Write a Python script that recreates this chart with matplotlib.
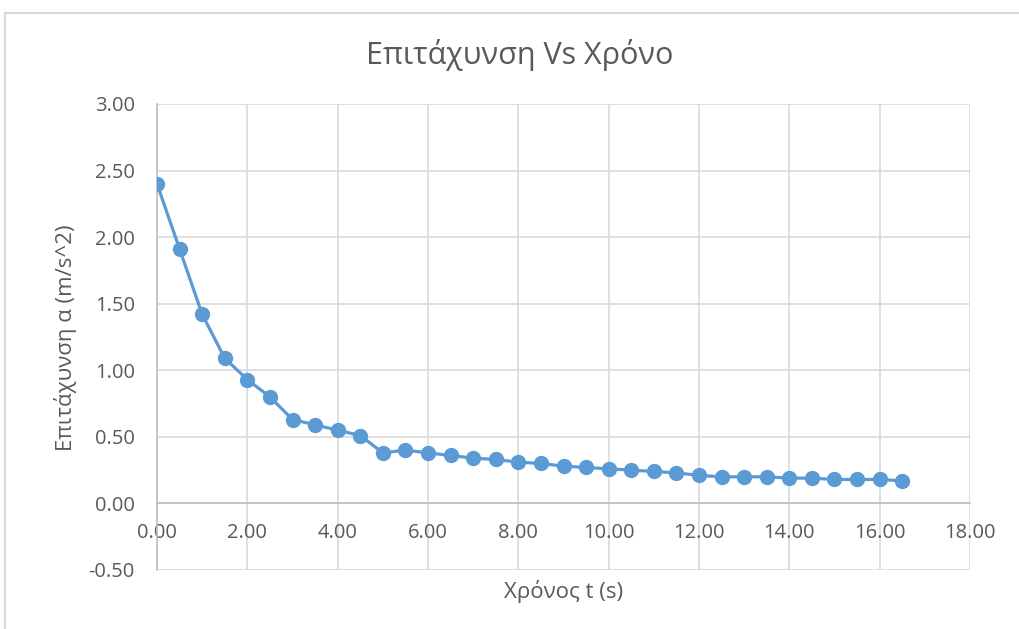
import matplotlib
matplotlib.use("Agg")
import matplotlib.pyplot as plt
from matplotlib.lines import Line2D

# data
time_s = [0.0, 0.5, 1.0, 1.5, 2.0, 2.5, 3.0, 3.5, 4.0, 4.5, 5.0, 5.5, 6.0, 6.5, 7.0, 7.5, 8.0,
          8.5, 9.0, 9.5, 10.0, 10.5, 11.0, 11.5, 12.0, 12.5, 13.0, 13.5, 14.0, 14.5, 15.0,
          15.5, 16.0, 16.5]
accel = [2.40, 1.91, 1.42, 1.09, 0.93, 0.80, 0.63, 0.59, 0.55, 0.51, 0.38, 0.40, 0.38, 0.36,
         0.34, 0.33, 0.31, 0.30, 0.28, 0.27, 0.26, 0.25, 0.24, 0.23, 0.21, 0.20, 0.20, 0.20,
         0.19, 0.19, 0.18, 0.18, 0.18, 0.17]
x_ticks = [0, 2, 4, 6, 8, 10, 12, 14, 16, 18]
y_ticks = [-0.5, 0.0, 0.5, 1.0, 1.5, 2.0, 2.5, 3.0]

title = "Επιτάχυνση Vs Χρόνο"
xlabel = "Χρόνος t (s)"
ylabel = "Επιτάχυνση α (m/s^2)"

plt.rcParams['font.family'] = ['Open Sans', 'DejaVu Sans']
txt = '#595959'
grid = '#d9d9d9'
blue = '#5B9BD5'

fig = plt.figure(figsize=(10.19, 6.29), dpi=100)
ax = fig.add_axes([0.1541, 0.0938, 0.7978, 0.7409])

ax.plot(time_s, accel, color=blue, lw=2.3, marker='o', ms=10, zorder=3)

ax.set_xlim(0, 18)
ax.set_ylim(-0.5, 3.0)
ax.set_xticks(x_ticks)
ax.set_yticks(y_ticks)
ax.set_xticklabels([f"{v:.2f}" for v in x_ticks])
ax.set_yticklabels([f"{v:.2f}" for v in y_ticks])
ax.grid(True, color=grid, lw=1.2)
ax.set_axisbelow(True)

for s in ['top', 'right']:
    ax.spines[s].set_visible(False)
ax.spines['left'].set_color('#bfbfbf')
ax.spines['left'].set_linewidth(1.2)
ax.spines['bottom'].set_position(('data', 0))
ax.spines['bottom'].set_color('#bfbfbf')
ax.spines['bottom'].set_linewidth(1.2)
ax.tick_params(length=0, labelsize=14.5, colors=txt)
ax.tick_params(axis='y', pad=16)
ax.tick_params(axis='x', pad=14)

fig.text(0.51, 0.913, title, ha='center', va='center', fontsize=22, color=txt)
fig.text(0.553, 0.059, xlabel, ha='center', va='center', fontsize=16, color=txt)
fig.text(0.064, 0.463, ylabel, ha='center', va='center', rotation=90, fontsize=16, color=txt)

# chart frame (top and left edges visible)
fig.add_artist(Line2D([0.005, 1.0], [0.979, 0.979], transform=fig.transFigure, color=grid, lw=1.5))
fig.add_artist(Line2D([0.005, 0.005], [0.0, 0.979], transform=fig.transFigure, color=grid, lw=1.5))

fig.savefig("out.png", dpi=100)
